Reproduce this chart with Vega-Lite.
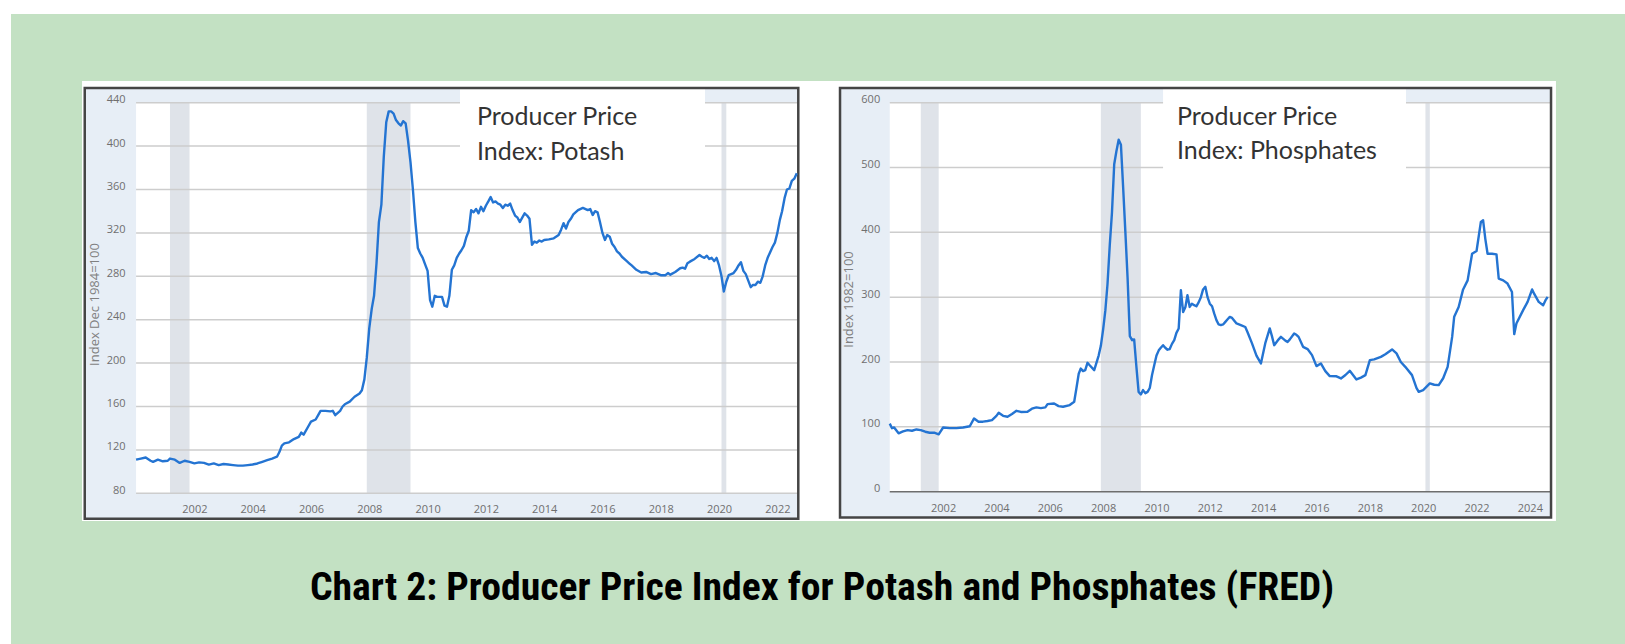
{
  "$schema": "https://vega.github.io/schema/vega-lite/v6.json",
  "width": 1625,
  "height": 644,
  "autosize": {"type": "fit", "contains": "padding"},
  "padding": {"left": 11, "top": 14, "right": 0, "bottom": 0},
  "background": "#ffffff",
  "config": {"view": {"fill": "#c3e1c3", "stroke": null}},
  "title": {
    "text": "Chart 2: Producer Price Index for Potash and Phosphates (FRED)",
    "orient": "bottom",
    "frame": "group",
    "anchor": "middle",
    "offset": -44,
    "dx": 4,
    "baseline": "alphabetic",
    "font": "Liberation Sans Narrow, Roboto Condensed, DejaVu Sans Condensed, Roboto",
    "fontSize": 39.7,
    "fontWeight": "bold",
    "color": "#000000"
  },
  "datasets": {
    "recessions": [
      {"start": "2001-03-01", "end": "2001-11-01"},
      {"start": "2007-12-01", "end": "2009-06-01"},
      {"start": "2020-02-01", "end": "2020-04-01"}
    ],
    "gridL": [{"v": 80}, {"v": 120}, {"v": 160}, {"v": 200}, {"v": 240}, {"v": 280}, {"v": 320}, {"v": 360}, {"v": 400}, {"v": 440}],
    "gridR": [{"v": 0}, {"v": 100}, {"v": 200}, {"v": 300}, {"v": 400}, {"v": 500}, {"v": 600}],
    "potash": [
      {"date": "2000-01-01", "value": 111}, {"date": "2000-03-01", "value": 112}, {"date": "2000-05-01", "value": 113},
      {"date": "2000-07-01", "value": 110}, {"date": "2000-08-01", "value": 109}, {"date": "2000-10-01", "value": 111},
      {"date": "2000-12-01", "value": 109.5}, {"date": "2001-02-01", "value": 110}, {"date": "2001-03-01", "value": 112},
      {"date": "2001-05-01", "value": 111}, {"date": "2001-07-01", "value": 108}, {"date": "2001-09-01", "value": 110},
      {"date": "2001-11-01", "value": 109}, {"date": "2002-01-01", "value": 107.6}, {"date": "2002-03-01", "value": 108.5},
      {"date": "2002-05-01", "value": 108}, {"date": "2002-07-01", "value": 106.4}, {"date": "2002-09-01", "value": 107.5},
      {"date": "2002-11-01", "value": 106}, {"date": "2003-01-01", "value": 107}, {"date": "2003-03-01", "value": 106.5},
      {"date": "2003-05-01", "value": 106}, {"date": "2003-07-01", "value": 105.5}, {"date": "2003-09-01", "value": 105.5},
      {"date": "2003-11-01", "value": 106}, {"date": "2004-01-01", "value": 106.5}, {"date": "2004-03-01", "value": 107.5},
      {"date": "2004-05-01", "value": 109}, {"date": "2004-07-01", "value": 110.5}, {"date": "2004-09-01", "value": 112},
      {"date": "2004-11-01", "value": 113.7}, {"date": "2004-12-01", "value": 118}, {"date": "2005-01-01", "value": 124},
      {"date": "2005-02-01", "value": 126}, {"date": "2005-04-01", "value": 127}, {"date": "2005-06-01", "value": 130},
      {"date": "2005-08-01", "value": 132}, {"date": "2005-09-01", "value": 136}, {"date": "2005-10-01", "value": 134},
      {"date": "2005-12-01", "value": 142}, {"date": "2006-01-01", "value": 146}, {"date": "2006-03-01", "value": 148},
      {"date": "2006-04-01", "value": 152}, {"date": "2006-05-01", "value": 156}, {"date": "2006-07-01", "value": 156},
      {"date": "2006-09-01", "value": 155.5}, {"date": "2006-10-01", "value": 156}, {"date": "2006-11-01", "value": 152},
      {"date": "2007-01-01", "value": 156}, {"date": "2007-02-01", "value": 160}, {"date": "2007-03-01", "value": 162},
      {"date": "2007-05-01", "value": 164.5}, {"date": "2007-07-01", "value": 169}, {"date": "2007-09-01", "value": 172},
      {"date": "2007-10-01", "value": 175}, {"date": "2007-11-01", "value": 185}, {"date": "2007-12-01", "value": 205},
      {"date": "2008-01-01", "value": 232}, {"date": "2008-02-01", "value": 250}, {"date": "2008-03-01", "value": 262},
      {"date": "2008-04-01", "value": 292}, {"date": "2008-05-01", "value": 330}, {"date": "2008-06-01", "value": 346},
      {"date": "2008-07-01", "value": 390}, {"date": "2008-08-01", "value": 422}, {"date": "2008-09-01", "value": 432},
      {"date": "2008-10-01", "value": 432}, {"date": "2008-11-01", "value": 430}, {"date": "2008-12-01", "value": 424},
      {"date": "2009-01-01", "value": 421}, {"date": "2009-02-01", "value": 419}, {"date": "2009-03-01", "value": 423},
      {"date": "2009-04-01", "value": 421}, {"date": "2009-05-01", "value": 405}, {"date": "2009-06-01", "value": 385},
      {"date": "2009-07-01", "value": 360}, {"date": "2009-08-01", "value": 330}, {"date": "2009-09-01", "value": 306},
      {"date": "2009-10-01", "value": 301}, {"date": "2009-11-01", "value": 297}, {"date": "2009-12-01", "value": 291},
      {"date": "2010-01-01", "value": 285}, {"date": "2010-02-01", "value": 258}, {"date": "2010-03-01", "value": 252},
      {"date": "2010-04-01", "value": 262}, {"date": "2010-05-01", "value": 261}, {"date": "2010-06-01", "value": 261},
      {"date": "2010-07-01", "value": 261}, {"date": "2010-08-01", "value": 253}, {"date": "2010-09-01", "value": 252},
      {"date": "2010-10-01", "value": 262}, {"date": "2010-11-01", "value": 286}, {"date": "2010-12-01", "value": 290},
      {"date": "2011-01-01", "value": 297}, {"date": "2011-02-01", "value": 301}, {"date": "2011-03-01", "value": 304},
      {"date": "2011-04-01", "value": 308}, {"date": "2011-05-01", "value": 316}, {"date": "2011-06-01", "value": 322},
      {"date": "2011-07-01", "value": 341}, {"date": "2011-08-01", "value": 339}, {"date": "2011-09-01", "value": 342},
      {"date": "2011-10-01", "value": 338}, {"date": "2011-11-01", "value": 344}, {"date": "2011-12-01", "value": 340},
      {"date": "2012-01-01", "value": 345}, {"date": "2012-02-01", "value": 349}, {"date": "2012-03-01", "value": 353},
      {"date": "2012-04-01", "value": 348}, {"date": "2012-05-01", "value": 349}, {"date": "2012-06-01", "value": 347},
      {"date": "2012-07-01", "value": 346}, {"date": "2012-08-01", "value": 343}, {"date": "2012-09-01", "value": 346},
      {"date": "2012-10-01", "value": 345}, {"date": "2012-11-01", "value": 347}, {"date": "2012-12-01", "value": 341},
      {"date": "2013-01-01", "value": 336}, {"date": "2013-02-01", "value": 334}, {"date": "2013-03-01", "value": 330},
      {"date": "2013-04-01", "value": 334}, {"date": "2013-05-01", "value": 338}, {"date": "2013-06-01", "value": 336},
      {"date": "2013-07-01", "value": 333}, {"date": "2013-08-01", "value": 309}, {"date": "2013-09-01", "value": 312},
      {"date": "2013-10-01", "value": 311}, {"date": "2013-11-01", "value": 313}, {"date": "2013-12-01", "value": 312},
      {"date": "2014-01-01", "value": 313.5}, {"date": "2014-03-01", "value": 314}, {"date": "2014-05-01", "value": 315},
      {"date": "2014-07-01", "value": 318}, {"date": "2014-08-01", "value": 323}, {"date": "2014-09-01", "value": 329},
      {"date": "2014-10-01", "value": 324}, {"date": "2014-11-01", "value": 330}, {"date": "2014-12-01", "value": 333},
      {"date": "2015-01-01", "value": 337}, {"date": "2015-03-01", "value": 341}, {"date": "2015-05-01", "value": 343},
      {"date": "2015-07-01", "value": 341}, {"date": "2015-08-01", "value": 342}, {"date": "2015-09-01", "value": 336.5},
      {"date": "2015-10-01", "value": 340}, {"date": "2015-11-01", "value": 339}, {"date": "2015-12-01", "value": 330},
      {"date": "2016-01-01", "value": 320}, {"date": "2016-02-01", "value": 313.5}, {"date": "2016-03-01", "value": 318},
      {"date": "2016-04-01", "value": 316.5}, {"date": "2016-05-01", "value": 310}, {"date": "2016-06-01", "value": 307},
      {"date": "2016-07-01", "value": 303}, {"date": "2016-08-01", "value": 301}, {"date": "2016-09-01", "value": 298},
      {"date": "2016-11-01", "value": 294}, {"date": "2016-12-01", "value": 292}, {"date": "2017-01-01", "value": 290},
      {"date": "2017-03-01", "value": 286}, {"date": "2017-05-01", "value": 283.5}, {"date": "2017-07-01", "value": 284},
      {"date": "2017-09-01", "value": 282}, {"date": "2017-11-01", "value": 283}, {"date": "2018-01-01", "value": 281},
      {"date": "2018-03-01", "value": 281}, {"date": "2018-04-01", "value": 283}, {"date": "2018-05-01", "value": 281.5},
      {"date": "2018-07-01", "value": 284}, {"date": "2018-09-01", "value": 287.4}, {"date": "2018-10-01", "value": 288},
      {"date": "2018-11-01", "value": 287}, {"date": "2018-12-01", "value": 292}, {"date": "2019-01-01", "value": 293.5},
      {"date": "2019-03-01", "value": 296}, {"date": "2019-05-01", "value": 299.6}, {"date": "2019-06-01", "value": 298},
      {"date": "2019-07-01", "value": 297}, {"date": "2019-08-01", "value": 299}, {"date": "2019-09-01", "value": 296},
      {"date": "2019-10-01", "value": 297}, {"date": "2019-11-01", "value": 294}, {"date": "2019-12-01", "value": 297},
      {"date": "2020-01-01", "value": 290}, {"date": "2020-02-01", "value": 280}, {"date": "2020-03-01", "value": 266},
      {"date": "2020-04-01", "value": 275}, {"date": "2020-05-01", "value": 281}, {"date": "2020-07-01", "value": 283},
      {"date": "2020-08-01", "value": 286}, {"date": "2020-09-01", "value": 290}, {"date": "2020-10-01", "value": 293},
      {"date": "2020-11-01", "value": 285}, {"date": "2020-12-01", "value": 282}, {"date": "2021-01-01", "value": 276},
      {"date": "2021-02-01", "value": 270}, {"date": "2021-03-01", "value": 272}, {"date": "2021-04-01", "value": 272},
      {"date": "2021-05-01", "value": 275}, {"date": "2021-06-01", "value": 274}, {"date": "2021-07-01", "value": 280},
      {"date": "2021-08-01", "value": 290}, {"date": "2021-09-01", "value": 297}, {"date": "2021-10-01", "value": 302},
      {"date": "2021-11-01", "value": 307}, {"date": "2021-12-01", "value": 311}, {"date": "2022-01-01", "value": 320},
      {"date": "2022-02-01", "value": 332}, {"date": "2022-03-01", "value": 340}, {"date": "2022-04-01", "value": 352},
      {"date": "2022-05-01", "value": 360}, {"date": "2022-06-01", "value": 361}, {"date": "2022-07-01", "value": 368},
      {"date": "2022-08-01", "value": 370}, {"date": "2022-09-01", "value": 375}
    ],
    "phosphates": [
      {"date": "2000-01-01", "value": 105}, {"date": "2000-02-01", "value": 98}, {"date": "2000-03-01", "value": 99},
      {"date": "2000-05-01", "value": 90}, {"date": "2000-07-01", "value": 93}, {"date": "2000-09-01", "value": 95},
      {"date": "2000-11-01", "value": 94}, {"date": "2001-01-01", "value": 96}, {"date": "2001-03-01", "value": 95},
      {"date": "2001-05-01", "value": 92.5}, {"date": "2001-07-01", "value": 91}, {"date": "2001-09-01", "value": 91},
      {"date": "2001-11-01", "value": 88.5}, {"date": "2002-01-01", "value": 99}, {"date": "2002-04-01", "value": 98},
      {"date": "2002-07-01", "value": 98}, {"date": "2002-10-01", "value": 99}, {"date": "2003-01-01", "value": 101},
      {"date": "2003-03-01", "value": 113}, {"date": "2003-05-01", "value": 108}, {"date": "2003-07-01", "value": 108},
      {"date": "2003-09-01", "value": 109}, {"date": "2003-11-01", "value": 110.5}, {"date": "2004-01-01", "value": 117},
      {"date": "2004-02-01", "value": 121.7}, {"date": "2004-04-01", "value": 117}, {"date": "2004-06-01", "value": 115.6},
      {"date": "2004-08-01", "value": 120}, {"date": "2004-10-01", "value": 124.8}, {"date": "2004-12-01", "value": 123},
      {"date": "2005-03-01", "value": 123.3}, {"date": "2005-05-01", "value": 128}, {"date": "2005-07-01", "value": 130},
      {"date": "2005-09-01", "value": 129}, {"date": "2005-11-01", "value": 130}, {"date": "2005-12-01", "value": 135},
      {"date": "2006-03-01", "value": 136}, {"date": "2006-05-01", "value": 132}, {"date": "2006-07-01", "value": 131},
      {"date": "2006-10-01", "value": 133.6}, {"date": "2006-12-01", "value": 138.7}, {"date": "2007-01-01", "value": 160},
      {"date": "2007-02-01", "value": 182}, {"date": "2007-03-01", "value": 190}, {"date": "2007-04-01", "value": 186},
      {"date": "2007-05-01", "value": 187.5}, {"date": "2007-06-01", "value": 198.8}, {"date": "2007-07-01", "value": 195},
      {"date": "2007-09-01", "value": 187.5}, {"date": "2007-11-01", "value": 210}, {"date": "2007-12-01", "value": 225},
      {"date": "2008-01-01", "value": 250}, {"date": "2008-02-01", "value": 280}, {"date": "2008-03-01", "value": 320},
      {"date": "2008-04-01", "value": 380}, {"date": "2008-05-01", "value": 430}, {"date": "2008-06-01", "value": 505},
      {"date": "2008-07-01", "value": 525}, {"date": "2008-08-01", "value": 543}, {"date": "2008-09-01", "value": 535},
      {"date": "2008-10-01", "value": 470}, {"date": "2008-11-01", "value": 400}, {"date": "2008-12-01", "value": 330},
      {"date": "2009-01-01", "value": 240}, {"date": "2009-02-01", "value": 233.7}, {"date": "2009-03-01", "value": 234.8},
      {"date": "2009-04-01", "value": 192.6}, {"date": "2009-05-01", "value": 154}, {"date": "2009-06-01", "value": 150},
      {"date": "2009-07-01", "value": 156.7}, {"date": "2009-08-01", "value": 152}, {"date": "2009-09-01", "value": 154},
      {"date": "2009-10-01", "value": 160}, {"date": "2009-11-01", "value": 180}, {"date": "2009-12-01", "value": 195},
      {"date": "2010-01-01", "value": 210}, {"date": "2010-02-01", "value": 218}, {"date": "2010-03-01", "value": 222},
      {"date": "2010-04-01", "value": 226}, {"date": "2010-05-01", "value": 222}, {"date": "2010-06-01", "value": 219},
      {"date": "2010-07-01", "value": 220}, {"date": "2010-08-01", "value": 228}, {"date": "2010-09-01", "value": 233.7},
      {"date": "2010-10-01", "value": 245}, {"date": "2010-11-01", "value": 251.8}, {"date": "2010-12-01", "value": 310.8},
      {"date": "2011-01-01", "value": 277}, {"date": "2011-02-01", "value": 285}, {"date": "2011-03-01", "value": 303},
      {"date": "2011-04-01", "value": 285}, {"date": "2011-05-01", "value": 290}, {"date": "2011-06-01", "value": 287.7},
      {"date": "2011-07-01", "value": 286}, {"date": "2011-08-01", "value": 292}, {"date": "2011-09-01", "value": 300},
      {"date": "2011-10-01", "value": 312}, {"date": "2011-11-01", "value": 316}, {"date": "2011-12-01", "value": 300},
      {"date": "2012-01-01", "value": 290}, {"date": "2012-02-01", "value": 286}, {"date": "2012-03-01", "value": 275},
      {"date": "2012-04-01", "value": 264.6}, {"date": "2012-05-01", "value": 258}, {"date": "2012-06-01", "value": 256.9},
      {"date": "2012-07-01", "value": 258}, {"date": "2012-08-01", "value": 262}, {"date": "2012-09-01", "value": 266},
      {"date": "2012-10-01", "value": 269.6}, {"date": "2012-11-01", "value": 268}, {"date": "2013-01-01", "value": 259.5},
      {"date": "2013-03-01", "value": 257}, {"date": "2013-05-01", "value": 254}, {"date": "2013-06-01", "value": 246},
      {"date": "2013-08-01", "value": 228.7}, {"date": "2013-10-01", "value": 210}, {"date": "2013-12-01", "value": 197.8},
      {"date": "2014-02-01", "value": 230}, {"date": "2014-04-01", "value": 251.8}, {"date": "2014-05-01", "value": 240},
      {"date": "2014-06-01", "value": 226}, {"date": "2014-08-01", "value": 235}, {"date": "2014-09-01", "value": 238.8},
      {"date": "2014-11-01", "value": 233}, {"date": "2014-12-01", "value": 231}, {"date": "2015-01-01", "value": 235},
      {"date": "2015-03-01", "value": 244}, {"date": "2015-04-01", "value": 242}, {"date": "2015-05-01", "value": 238.8},
      {"date": "2015-07-01", "value": 223.4}, {"date": "2015-09-01", "value": 220}, {"date": "2015-11-01", "value": 210.6},
      {"date": "2016-01-01", "value": 193.7}, {"date": "2016-03-01", "value": 197.8}, {"date": "2016-05-01", "value": 186},
      {"date": "2016-07-01", "value": 178.3}, {"date": "2016-10-01", "value": 178}, {"date": "2016-12-01", "value": 174.7},
      {"date": "2017-02-01", "value": 180}, {"date": "2017-04-01", "value": 186.4}, {"date": "2017-07-01", "value": 173.2},
      {"date": "2017-09-01", "value": 176}, {"date": "2017-11-01", "value": 179.8}, {"date": "2018-01-01", "value": 202.9},
      {"date": "2018-03-01", "value": 204}, {"date": "2018-06-01", "value": 208}, {"date": "2018-08-01", "value": 212},
      {"date": "2018-11-01", "value": 219.4}, {"date": "2019-01-01", "value": 213.3}, {"date": "2019-03-01", "value": 200},
      {"date": "2019-05-01", "value": 192.6}, {"date": "2019-08-01", "value": 179.8}, {"date": "2019-10-01", "value": 160},
      {"date": "2019-11-01", "value": 154}, {"date": "2020-01-01", "value": 156.7}, {"date": "2020-04-01", "value": 167},
      {"date": "2020-06-01", "value": 165}, {"date": "2020-08-01", "value": 164.4}, {"date": "2020-10-01", "value": 175},
      {"date": "2020-12-01", "value": 192.6}, {"date": "2021-02-01", "value": 238.8}, {"date": "2021-03-01", "value": 270},
      {"date": "2021-05-01", "value": 285}, {"date": "2021-07-01", "value": 312}, {"date": "2021-09-01", "value": 326},
      {"date": "2021-11-01", "value": 367}, {"date": "2022-01-01", "value": 371.3}, {"date": "2022-03-01", "value": 416},
      {"date": "2022-04-01", "value": 418.6}, {"date": "2022-05-01", "value": 390}, {"date": "2022-06-01", "value": 367},
      {"date": "2022-08-01", "value": 367}, {"date": "2022-10-01", "value": 366}, {"date": "2022-11-01", "value": 328.8},
      {"date": "2023-01-01", "value": 326}, {"date": "2023-03-01", "value": 321}, {"date": "2023-05-01", "value": 308},
      {"date": "2023-06-01", "value": 243}, {"date": "2023-07-01", "value": 259.5}, {"date": "2023-10-01", "value": 280},
      {"date": "2023-12-01", "value": 292.8}, {"date": "2024-02-01", "value": 311.9}, {"date": "2024-03-01", "value": 305},
      {"date": "2024-05-01", "value": 292.8}, {"date": "2024-07-01", "value": 287.7}, {"date": "2024-08-01", "value": 295},
      {"date": "2024-09-01", "value": 300.5}
    ]
  },
  "layer": [
    {
      "layer": [
        {
          "data": {"values": [{}]},
          "mark": {"type": "rect", "fill": "#ffffff"},
          "encoding": {
            "x": {"datum": {"year": 1998, "month": 2, "date": 23}, "type": "temporal"},
            "x2": {"datum": {"year": 2048, "month": 9, "date": 17}},
            "y": {"datum": 54.5, "type": "quantitative"},
            "y2": {"datum": 460}
          }
        },
        {
          "data": {"values": [{}]},
          "mark": {"type": "rect", "fill": "#e7eef6"},
          "encoding": {
            "x": {"datum": {"year": 1998, "month": 3, "date": 29}, "type": "temporal"},
            "x2": {"datum": {"year": 2022, "month": 9, "date": 20}},
            "y": {"datum": 56.5, "type": "quantitative"},
            "y2": {"datum": 453.5}
          }
        },
        {
          "data": {"values": [{}]},
          "mark": {"type": "rect", "fill": "#ffffff"},
          "encoding": {
            "x": {"datum": {"year": 2000, "month": 1, "date": 1}, "type": "temporal"},
            "x2": {"datum": {"year": 2022, "month": 9, "date": 20}},
            "y": {"datum": 80, "type": "quantitative"},
            "y2": {"datum": 440}
          }
        },
        {
          "data": {"name": "recessions"},
          "mark": {"type": "rect", "fill": "#dfe3e9"},
          "encoding": {
            "x": {"field": "start", "type": "temporal"},
            "x2": {"field": "end"},
            "y": {"datum": 80, "type": "quantitative"},
            "y2": {"datum": 440}
          }
        },
        {
          "data": {"name": "gridL"},
          "mark": {"type": "rule", "strokeWidth": 1.5, "color": "#cdcdcd"},
          "encoding": {
            "y": {"field": "v", "type": "quantitative"},
            "x": {"datum": {"year": 2000, "month": 1, "date": 1}, "type": "temporal"},
            "x2": {"datum": {"year": 2022, "month": 9, "date": 20}}
          }
        },
        {
          "data": {"values": [{}]},
          "mark": {"type": "rect", "fill": "#ffffff"},
          "encoding": {
            "x": {"datum": {"year": 2011, "month": 2, "date": 11}, "type": "temporal"},
            "x2": {"datum": {"year": 2019, "month": 7, "date": 9}},
            "y": {"datum": 378, "type": "quantitative"},
            "y2": {"datum": 453.5}
          }
        },
        {
          "data": {"values": [{}]},
          "mark": {"type": "rect", "fillOpacity": 0, "stroke": "#454545", "strokeWidth": 2.5},
          "encoding": {
            "x": {"datum": {"year": 1998, "month": 3, "date": 29}, "type": "temporal"},
            "x2": {"datum": {"year": 2022, "month": 9, "date": 20}},
            "y": {"datum": 56.5, "type": "quantitative"},
            "y2": {"datum": 453.5}
          }
        },
        {
          "data": {"name": "potash"},
          "mark": {"type": "line", "color": "#2474d2", "strokeWidth": 2.4, "strokeJoin": "round"},
          "encoding": {
            "x": {
              "field": "date", "type": "temporal",
              "scale": {"domain": [{"year": 1995, "month": 9, "date": 17}, {"year": 2051, "month": 1, "date": 30}]},
              "axis": {
                "orient": "bottom", "offset": -150.7, "zindex": 2,
                "values": [{"year": 2002}, {"year": 2004}, {"year": 2006}, {"year": 2008}, {"year": 2010}, {"year": 2012}, {"year": 2014}, {"year": 2016}, {"year": 2018}, {"year": 2020}, {"year": 2022}],
                "format": "%Y", "domain": false, "ticks": false, "grid": false,
                "labelPadding": 10, "labelFont": "Open Sans", "labelFontSize": 11, "labelColor": "#6f6f6f",
                "labelOverlap": false, "labelFlush": false, "title": null
              }
            },
            "y": {
              "field": "value", "type": "quantitative",
              "scale": {"domain": [-58.9, 521.75], "zero": false, "nice": false},
              "axis": {
                "orient": "left", "offset": -125, "zindex": 2,
                "values": [80, 120, 160, 200, 240, 280, 320, 360, 400, 440],
                "domain": false, "ticks": false, "grid": false,
                "labelPadding": 11, "labelFont": "Open Sans", "labelFontSize": 11, "labelColor": "#6f6f6f",
                "labelBaseline": "alphabetic", "labelOverlap": false, "labelFlush": false,
                "title": "Index Dec 1984=100", "titleX": -42, "titleY": 290, "titleAngle": 270,
                "titleAlign": "center", "titleBaseline": "middle", "titleFont": "Open Sans",
                "titleFontSize": 13, "titleFontWeight": "normal", "titleColor": "#808080"
              }
            }
          }
        },
        {
          "data": {"values": [{}]},
          "mark": {"type": "text", "font": "Lato", "fontSize": 25, "align": "left", "baseline": "alphabetic", "lineHeight": 34.5, "color": "#333333"},
          "encoding": {
            "x": {"datum": {"year": 2011, "month": 9, "date": 12}, "type": "temporal"},
            "y": {"datum": 419.4, "type": "quantitative"},
            "text": {"value": ["Producer Price", "Index: Potash"]}
          }
        }
      ]
    },
    {
      "layer": [
        {
          "data": {"values": [{}]},
          "mark": {"type": "rect", "fill": "#e7eef6"},
          "encoding": {
            "x": {"datum": {"year": 1998, "month": 2, "date": 19}, "type": "temporal"},
            "x2": {"datum": {"year": 2024, "month": 10, "date": 17}},
            "y": {"datum": -39.8, "type": "quantitative"},
            "y2": {"datum": 622.7}
          }
        },
        {
          "data": {"values": [{}]},
          "mark": {"type": "rect", "fill": "#ffffff"},
          "encoding": {
            "x": {"datum": {"year": 2000, "month": 1, "date": 1}, "type": "temporal"},
            "x2": {"datum": {"year": 2024, "month": 10, "date": 17}},
            "y": {"datum": 0, "type": "quantitative"},
            "y2": {"datum": 600}
          }
        },
        {
          "data": {"name": "recessions"},
          "mark": {"type": "rect", "fill": "#dfe3e9"},
          "encoding": {
            "x": {"field": "start", "type": "temporal"},
            "x2": {"field": "end"},
            "y": {"datum": 0, "type": "quantitative"},
            "y2": {"datum": 600}
          }
        },
        {
          "data": {"name": "gridR"},
          "mark": {"type": "rule", "strokeWidth": 1.5},
          "encoding": {
            "y": {"field": "v", "type": "quantitative"},
            "x": {"datum": {"year": 2000, "month": 1, "date": 1}, "type": "temporal"},
            "x2": {"datum": {"year": 2024, "month": 10, "date": 17}},
            "color": {"condition": {"test": "datum.v === 0", "value": "#6e6e6e"}, "value": "#cdcdcd"}
          }
        },
        {
          "data": {"values": [{}]},
          "mark": {"type": "rect", "fill": "#ffffff"},
          "encoding": {
            "x": {"datum": {"year": 2010, "month": 4, "date": 1}, "type": "temporal"},
            "x2": {"datum": {"year": 2019, "month": 5, "date": 11}},
            "y": {"datum": 495, "type": "quantitative"},
            "y2": {"datum": 622.7}
          }
        },
        {
          "data": {"values": [{}]},
          "mark": {"type": "rect", "fillOpacity": 0, "stroke": "#454545", "strokeWidth": 2.5},
          "encoding": {
            "x": {"datum": {"year": 1998, "month": 2, "date": 19}, "type": "temporal"},
            "x2": {"datum": {"year": 2024, "month": 10, "date": 17}},
            "y": {"datum": -39.8, "type": "quantitative"},
            "y2": {"datum": 622.7}
          }
        },
        {
          "data": {"name": "phosphates"},
          "mark": {"type": "line", "color": "#2474d2", "strokeWidth": 2.4, "strokeJoin": "round"},
          "encoding": {
            "x": {
              "field": "date", "type": "temporal",
              "scale": {"domain": [{"year": 1967, "month": 1, "date": 20}, {"year": 2027, "month": 7, "date": 27}]},
              "axis": {
                "orient": "bottom", "offset": -152.3, "zindex": 2,
                "values": [{"year": 2002}, {"year": 2004}, {"year": 2006}, {"year": 2008}, {"year": 2010}, {"year": 2012}, {"year": 2014}, {"year": 2016}, {"year": 2018}, {"year": 2020}, {"year": 2022}, {"year": 2024}],
                "format": "%Y", "domain": false, "ticks": false, "grid": false,
                "labelPadding": 11, "labelFont": "Open Sans", "labelFontSize": 11, "labelColor": "#6f6f6f",
                "labelOverlap": false, "labelFlush": false, "title": null
              }
            },
            "y": {
              "field": "value", "type": "quantitative",
              "scale": {"domain": [-234.9, 736.8], "zero": false, "nice": false},
              "axis": {
                "orient": "left", "offset": -878.7, "zindex": 2,
                "values": [0, 100, 200, 300, 400, 500, 600],
                "domain": false, "ticks": false, "grid": false,
                "labelPadding": 10, "labelFont": "Open Sans", "labelFontSize": 11, "labelColor": "#6f6f6f",
                "labelBaseline": "alphabetic", "labelOverlap": false, "labelFlush": false,
                "title": "Index 1982=100", "titleX": -41.7, "titleY": 285, "titleAngle": 270,
                "titleAlign": "center", "titleBaseline": "middle", "titleFont": "Open Sans",
                "titleFontSize": 13, "titleFontWeight": "normal", "titleColor": "#808080"
              }
            }
          }
        },
        {
          "data": {"values": [{}]},
          "mark": {"type": "text", "font": "Lato", "fontSize": 25, "align": "left", "baseline": "alphabetic", "lineHeight": 34.5, "color": "#333333"},
          "encoding": {
            "x": {"datum": {"year": 2010, "month": 10, "date": 9}, "type": "temporal"},
            "y": {"datum": 565.6, "type": "quantitative"},
            "text": {"value": ["Producer Price", "Index: Phosphates"]}
          }
        }
      ]
    }
  ],
  "resolve": {"scale": {"x": "independent", "y": "independent"}}
}
